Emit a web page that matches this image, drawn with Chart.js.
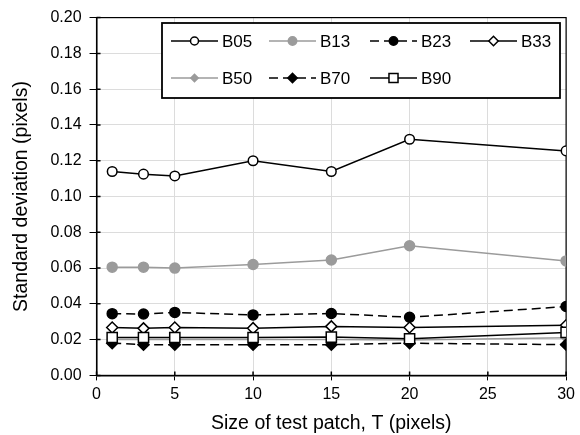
<!DOCTYPE html>
<html>
<head>
<meta charset="utf-8">
<script src="https://cdn.jsdelivr.net/npm/chart.js@4.4.1/dist/chart.umd.min.js"></script>
<style>
    body { margin: 0; background: #fff; }
    .chart { width: 580px; height: 435px; }
</style>
</head>
<body>
<div class="chart"><canvas id="lineChart"></canvas></div>
<script>
// patch size T (pixels)
const patch_sizes = [1, 3, 5, 10, 15, 20, 30];

const series_names = ['B05', 'B13', 'B23', 'B33', 'B50', 'B70', 'B90'];

const b05 = [0.114, 0.1125, 0.1115, 0.120, 0.114, 0.132, 0.1255];
const b13 = [0.0605, 0.0605, 0.060, 0.062, 0.0645, 0.0725, 0.064];
const b23 = [0.0345, 0.0343, 0.0352, 0.0338, 0.0346, 0.0325, 0.0385];
const b33 = [0.0268, 0.0263, 0.0268, 0.0264, 0.0274, 0.0268, 0.0280];
const b50 = [0.0200, 0.0200, 0.0200, 0.0200, 0.0200, 0.0198, 0.0210];
const b70 = [0.0180, 0.0172, 0.0172, 0.0172, 0.0172, 0.0180, 0.0172];
const b90 = [0.0212, 0.0212, 0.0212, 0.0212, 0.0214, 0.0205, 0.0240];

const y_ticks = [0, 0.02, 0.04, 0.06, 0.08, 0.10, 0.12, 0.14, 0.16, 0.18, 0.20];

const gray = '#9b9b9b';
const font_family = '"Liberation Sans", Arial, sans-serif';

// marker / line style per series
const styles = [
    {color: '#000', fill: '#fff', point: 'circle', radius: 4.8, dash: []},
    {color: gray, fill: gray, point: 'circle', radius: 5, dash: []},
    {color: '#000', fill: '#000', point: 'circle', radius: 5, dash: [9, 5]},
    {color: '#000', fill: '#fff', point: 'rectRot', radius: 5.5, dash: []},
    {color: gray, fill: gray, point: 'rectRot', radius: 4.5, dash: []},
    {color: '#000', fill: '#000', point: 'rectRot', radius: 5.5, dash: [9, 5]},
    {color: '#000', fill: '#fff', point: 'rect', radius: 7.2, dash: []}
];

const all_values = [b05, b13, b23, b33, b50, b70, b90];

let datasets = [];
for (let i = 0; i < series_names.length; i++) {
    let s = styles[i];
    datasets.push({
        label: series_names[i],
        data: patch_sizes.map((x, j) => ({x: x, y: all_values[i][j]})),
        borderColor: s.color,
        borderWidth: 1.5,
        borderDash: s.dash,
        pointStyle: s.point,
        pointRadius: s.radius,
        pointBackgroundColor: s.fill,
        pointBorderColor: s.color,
        pointBorderWidth: 1.5,
        tension: 0,
        order: series_names.length - i
    });
}

// box around plot area, inner half of tick marks, legend inside plot
const frame_legend = {
    id: 'frame_legend',
    beforeDatasetsDraw(chart) {
        let ctx = chart.ctx;
        let a = chart.chartArea;
        ctx.save();
        ctx.strokeStyle = '#000';
        ctx.lineWidth = 1.2;
        ctx.strokeRect(a.left, a.top, a.right - a.left, a.bottom - a.top);
        ctx.lineWidth = 1.5;
        ctx.beginPath();
        chart.scales.y.ticks.forEach(t => {
            let py = chart.scales.y.getPixelForValue(t.value);
            ctx.moveTo(a.left, py);
            ctx.lineTo(a.left + 4, py);
        });
        chart.scales.x.ticks.forEach(t => {
            let px = chart.scales.x.getPixelForValue(t.value);
            ctx.moveTo(px, a.bottom);
            ctx.lineTo(px, a.bottom - 4);
        });
        ctx.stroke();
        ctx.restore();
    },
    afterDatasetsDraw(chart) {
        let ctx = chart.ctx;
        ctx.save();
        // legend box
        ctx.fillStyle = '#fff';
        ctx.fillRect(162, 23, 398, 75);
        ctx.strokeStyle = '#000';
        ctx.lineWidth = 1.8;
        ctx.strokeRect(162, 23, 398, 75);

        let cols = [171, 269, 370, 470];
        let rows = [41, 78];
        ctx.font = '17px ' + font_family;
        ctx.textBaseline = 'middle';
        for (let i = 0; i < datasets.length; i++) {
            let d = datasets[i];
            let x0 = cols[i % 4];
            let y0 = rows[Math.floor(i / 4)];
            ctx.strokeStyle = d.borderColor;
            ctx.lineWidth = 1.5;
            ctx.setLineDash(d.borderDash);
            ctx.beginPath();
            ctx.moveTo(x0, y0);
            ctx.lineTo(x0 + 47, y0);
            ctx.stroke();
            ctx.setLineDash([]);
            ctx.fillStyle = d.pointBackgroundColor;
            ctx.strokeStyle = d.pointBorderColor;
            Chart.helpers.drawPoint(ctx, {pointStyle: d.pointStyle, radius: d.pointRadius - 0.8, borderWidth: 1.5, rotation: 0}, x0 + 23.5, y0);
            ctx.fillStyle = '#000';
            ctx.fillText(d.label, x0 + 51, y0 + 1);
        }
        ctx.restore();
    }
};

let config = {
    type: 'line',
    data: {datasets: datasets},
    options: {
        responsive: true,
        maintainAspectRatio: false,
        animation: false,
        layout: {
            padding: {top: 15, right: 11, left: 10, bottom: 0}
        },
        plugins: {
            legend: {display: false},
            tooltip: {enabled: false}
        },
        scales: {
            x: {
                type: 'linear',
                min: 0,
                max: 30,
                border: {color: '#000', width: 1.5},
                grid: {color: '#dcdcdc', tickColor: '#000', tickLength: 5, lineWidth: 1},
                ticks: {stepSize: 5, color: '#000', font: {size: 16, family: font_family}, padding: 5},
                title: {display: true, text: 'Size of test patch, T (pixels)', color: '#000',
                    font: {size: 19.5, family: font_family}, padding: {top: 2, bottom: 0}}
            },
            y: {
                min: 0,
                max: 0.2,
                border: {color: '#000', width: 1.5},
                grid: {color: '#dcdcdc', tickColor: '#000', tickLength: 7, lineWidth: 1},
                afterBuildTicks: (axis) => { axis.ticks = y_ticks.map(v => ({value: v})); },
                ticks: {color: '#000', font: {size: 16, family: font_family}, padding: 8,
                    callback: (v) => v.toFixed(2)},
                title: {display: true, text: 'Standard deviation (pixels)', color: '#000',
                    font: {size: 19.5, family: font_family}, padding: {top: 0, bottom: 9}}
            }
        }
    },
    plugins: [frame_legend]
};

new Chart(document.querySelector('#lineChart').getContext('2d'), config);
</script>
</body>
</html>
